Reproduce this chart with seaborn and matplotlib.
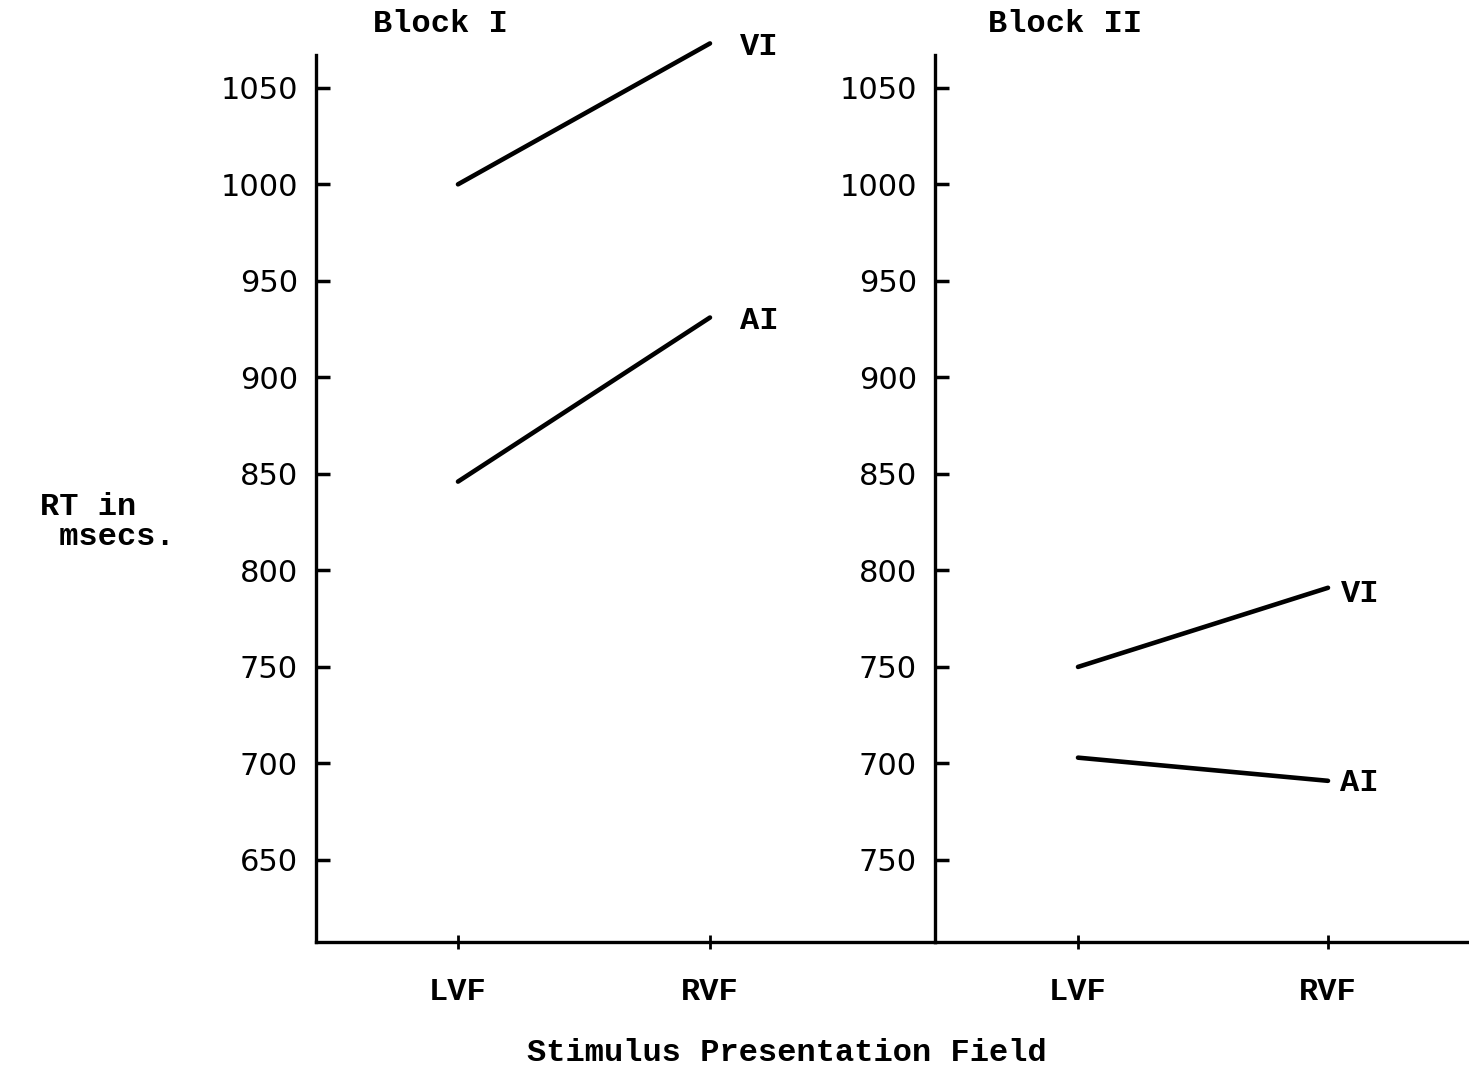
# RT by stimulus field, Block I / Block II (recreated from a typed figure)
import numpy as np
import pandas as pd
import matplotlib
matplotlib.use("Agg")
import matplotlib.pyplot as plt
import seaborn as sns

# Data
fields = ["LVF", "RVF"]
block1_vi = [1000, 1073]
block1_ai = [846, 931]
block2_vi = [750, 791]
block2_ai = [703, 691]

yticks = [650, 700, 750, 800, 850, 900, 950, 1000, 1050]
left_ylabels = ["650", "700", "750", "800", "850", "900", "950", "1000", "1050"]
right_ylabels = ["750", "700", "750", "800", "850", "900", "950", "1000", "1050"]

sns.set_style("white")
plt.rcParams['font.family'] = ['Liberation Mono', 'DejaVu Sans Mono']
plt.rcParams['text.color'] = 'black'

df1 = pd.DataFrame({
    'Field': fields * 2,
    'RT': block1_vi + block1_ai,
    'Cond': ['VI'] * 2 + ['AI'] * 2,
})
df2 = pd.DataFrame({
    'Field': fields * 2,
    'RT': block2_vi + block2_ai,
    'Cond': ['VI'] * 2 + ['AI'] * 2,
})

fig = plt.figure(figsize=(14.69, 10.77), dpi=100)
ax1 = fig.add_axes([316 / 1469, 1 - 942 / 1077, 619 / 1469, 887 / 1077])
ax2 = fig.add_axes([935 / 1469, 1 - 942 / 1077, 532 / 1469, 887 / 1077])

mono = dict(family='Liberation Mono', fontsize=23, weight='bold', color='black')

for ax, df, xlim, ylabels in [
    (ax1, df1, (-0.5635, 1.893), left_ylabels),
    (ax2, df2, (-0.572, 1.556), right_ylabels),
]:
    sns.lineplot(data=df, x='Field', y='RT', hue='Cond', palette=['black', 'black'],
                 linewidth=3.3, legend=False, ax=ax, sort=False)
    for line in ax.lines:
        line.set_clip_on(False)
        line.set_solid_capstyle('round')
    ax.set_xlim(*xlim)
    ax.set_ylim(607.5, 1067)
    ax.set_yticks(yticks)
    ax.set_yticklabels(ylabels, family='DejaVu Sans', fontsize=22, color='black')
    ax.set_xticks([0, 1])
    ax.set_xticklabels(fields, **mono)
    ax.set_xlabel("")
    ax.set_ylabel("")
    ax.tick_params(axis='y', left=True, direction='in', length=10, width=2.5,
                   pad=13, color='black')
    ax.tick_params(axis='x', bottom=True, direction='inout', length=10, width=2,
                   pad=20, color='black')
    for s in ['top', 'right']:
        ax.spines[s].set_visible(False)
    for s in ['left', 'bottom']:
        ax.spines[s].set_linewidth(2.4)
        ax.spines[s].set_color('black')
    ax.patch.set_alpha(0)

# end labels for each line
ax1.text(1.12, 1071, "VI", va='center', ha='left', **mono)
ax1.text(1.12, 929, "AI", va='center', ha='left', **mono)
ax2.text(1.05, 788, "VI", va='center', ha='left', **mono)
ax2.text(1.05, 690, "AI", va='center', ha='left', **mono)

fig.text(440 / 1469, 1 - 24 / 1077, "Block I", ha='center', va='center', **mono)
fig.text(1065 / 1469, 1 - 24 / 1077, "Block II", ha='center', va='center', **mono)
fig.text(40 / 1469, 1 - 522 / 1077, "RT in\n msecs.", ha='left', va='center',
         linespacing=1.0, **mono)
fig.text(787 / 1469, 1 - 1053 / 1077, "Stimulus Presentation Field", ha='center',
         va='center', **mono)

fig.savefig("out.png", dpi=100)
